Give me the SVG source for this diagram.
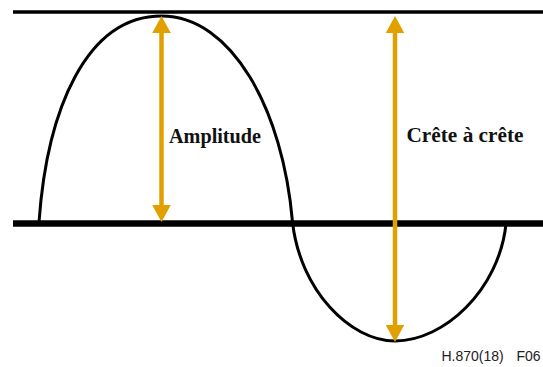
<svg xmlns="http://www.w3.org/2000/svg" width="543" height="367" viewBox="0 0 543 367">
  <style>
    .axis { stroke: #000; fill: none; }
    .wave { stroke: #000; stroke-width: 3; fill: none; }
    .arrow { stroke: #E0A000; stroke-width: 4.5; fill: none; }
    .label { font-family: "Liberation Serif", "Times New Roman", serif; font-weight: bold; font-size: 21px; fill: #111; }
    .ref { font-family: "Liberation Sans", Arial, sans-serif; font-size: 14px; fill: #222; }
  </style>
  <defs>
    <marker id="head" viewBox="0 0 17 18.6" markerUnits="userSpaceOnUse" markerWidth="17" markerHeight="18.6" refX="2" refY="9.3" orient="auto-start-reverse">
      <path d="M0,0 L17,9.3 L0,18.6 Z" fill="#E0A000"/>
    </marker>
  </defs>
  <g id="axes">
    <line class="axis" x1="13" y1="12" x2="543" y2="12" stroke-width="3.5"/>
    <line class="axis" x1="13" y1="223.5" x2="543" y2="223.5" stroke-width="6.5"/>
  </g>
  <g id="wave">
    <path class="wave" d="M39,222 C47,110 86,16 161.5,16 C232,16 283,110 292.5,222 C300,290 350,341 395,341 C444,341 499,290 506,224"/>
  </g>
  <g id="connectors">
    <line class="arrow" x1="161.5" y1="31" x2="161.5" y2="207" marker-start="url(#head)" marker-end="url(#head)"/>
    <line class="arrow" x1="395" y1="31" x2="395" y2="327" marker-start="url(#head)" marker-end="url(#head)"/>
  </g>
  <g id="amplitude">
    <text class="label" x="169" y="142.5" textLength="92" lengthAdjust="spacingAndGlyphs">Amplitude</text>
  </g>
  <g id="crete">
    <text class="label" x="406.5" y="142" textLength="117" lengthAdjust="spacingAndGlyphs">Crête à crête</text>
  </g>
  <g id="reference">
    <text class="ref" x="441.5" y="360.5">H.870(18)<tspan x="516.5">F06</tspan></text>
  </g>
</svg>
